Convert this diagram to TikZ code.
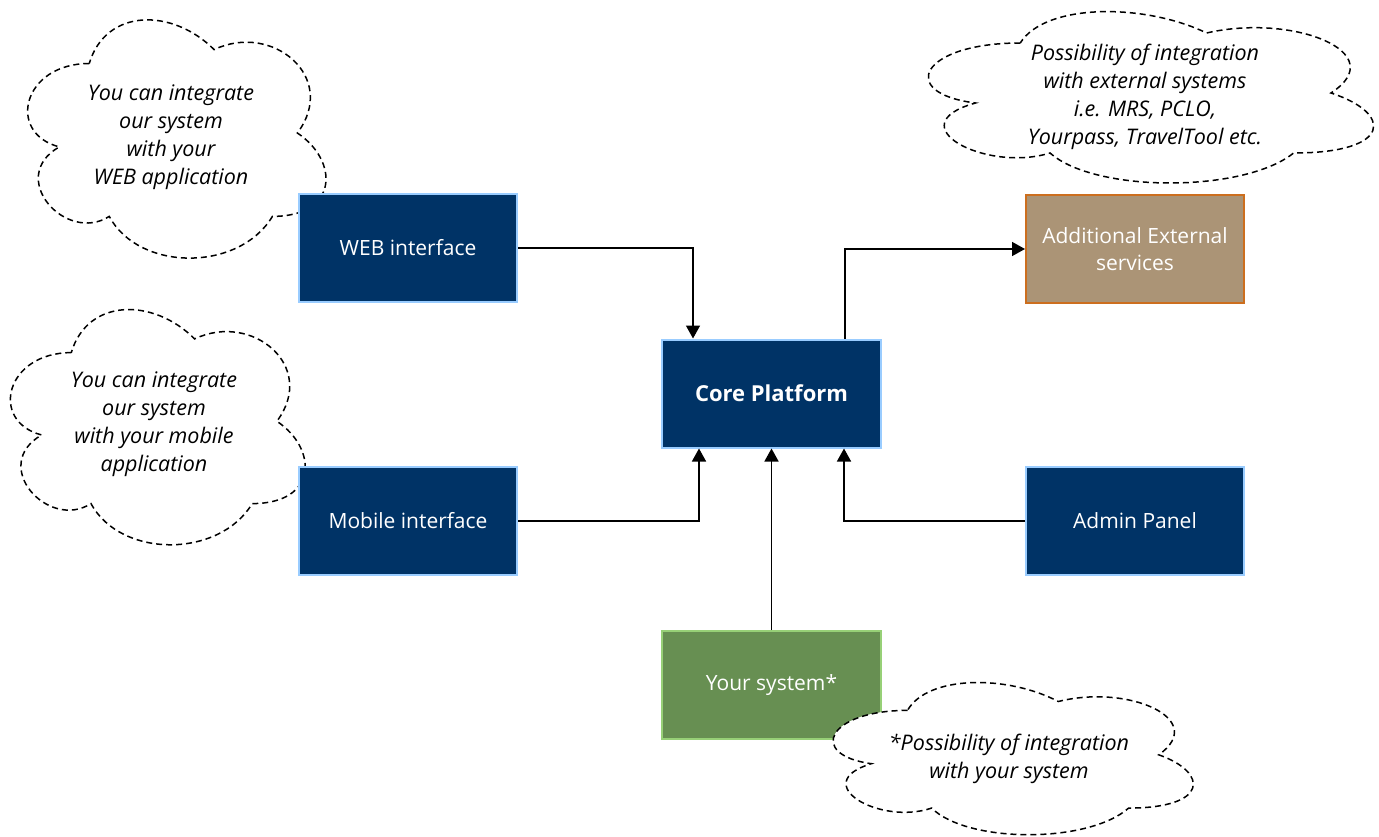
\documentclass[tikz,border=0pt]{standalone}
\usepackage{fontspec}
\setmainfont{Open Sans}
\usetikzlibrary{arrows.meta}
\definecolor{navy}{RGB}{0,51,102}
\definecolor{navyedge}{RGB}{153,204,255}
\definecolor{brownfill}{RGB}{171,148,118}
\definecolor{brownedge}{RGB}{204,110,30}
\definecolor{greenfill}{RGB}{103,143,82}
\definecolor{greenedge}{RGB}{151,208,119}
\tikzset{
  box/.style={draw, line width=2pt, minimum width=218pt, minimum height=108pt,
    text=white, align=center, font=\fontsize{21}{27}\selectfont, inner sep=0pt},
  navybox/.style={box, fill=navy, draw=navyedge},
  brownbox/.style={box, fill=brownfill, draw=brownedge},
  greenbox/.style={box, fill=greenfill, draw=greenedge},
  cloudline/.style={draw=black, fill=white, line width=1.5pt, dash pattern=on 6pt off 4pt},
  cloudtext/.style={align=center, font=\fontsize{21.5}{28}\selectfont\itshape, inner sep=0pt},
  arr/.style={line width=1.5pt, -{Triangle[length=13pt,width=14pt]}},
}
\newcommand\mycloud[1]{%
  \begin{scope}[#1]
    \path[cloudline] (0.25,0.25) .. controls (0.05,0.25) and (0,0.5) .. (0.16,0.55)
      .. controls (0,0.66) and (0.18,0.9) .. (0.31,0.8)
      .. controls (0.4,1) and (0.7,1) .. (0.8,0.8)
      .. controls (1,0.8) and (1,0.6) .. (0.875,0.5)
      .. controls (1,0.3) and (0.8,0.1) .. (0.625,0.2)
      .. controls (0.5,0.05) and (0.3,0.05) .. (0.25,0.25) -- cycle;
  \end{scope}}
\begin{document}
\begin{tikzpicture}[x=1pt,y=-1pt]
\useasboundingbox[fill=white] (0,0) rectangle (1379,837);
% clouds behind boxes
\mycloud{shift={(6,-6)}, xscale=333, yscale=278}
\node[cloudtext] (c1) at (171,137) {You can integrate\\our system\\with your\\WEB application};
\mycloud{shift={(-11,284)}, xscale=329, yscale=274.5}
\node[cloudtext] (c2) at (154,424) {You can integrate\\our system\\with your mobile\\application};
\mycloud{shift={(896,-7)}, xscale=497, yscale=200}
\node[cloudtext] (c3) at (1145,97) {Possibility of integration\\with external systems\\i.e. MRS, PCLO,\\Yourpass, TravelTool etc.};
% boxes
\node[navybox] (web) at (408,248) {WEB interface};
\node[navybox] (mob) at (408,521) {Mobile interface};
\node[navybox, minimum width=219pt, font=\fontsize{22}{27}\selectfont\bfseries] (core) at (771.5,393.5) {Core Platform};
\node[brownbox] (ext) at (1135,249) {Additional External\\services};
\node[navybox] (adm) at (1135,521) {Admin Panel};
\node[greenbox, minimum width=219pt] (your) at (771.5,685) {Your system*};
% cloud over the green box
\mycloud{shift={(807,666)}, xscale=402, yscale=177.6}
\node[cloudtext] (c4) at (1009,759) {*Possibility of integration\\with your system};
% connectors
\draw[arr] (web.east) -| ([xshift=-78.5pt]core.north);
\draw[arr] ([xshift=73.5pt]core.north) |- (ext.west);
\draw[arr] (mob.east) -| ([xshift=-72.5pt]core.south);
\draw[arr] (your.north) -- (core.south);
\draw[arr] (adm.west) -| ([xshift=72.5pt]core.south);
\end{tikzpicture}
\end{document}
